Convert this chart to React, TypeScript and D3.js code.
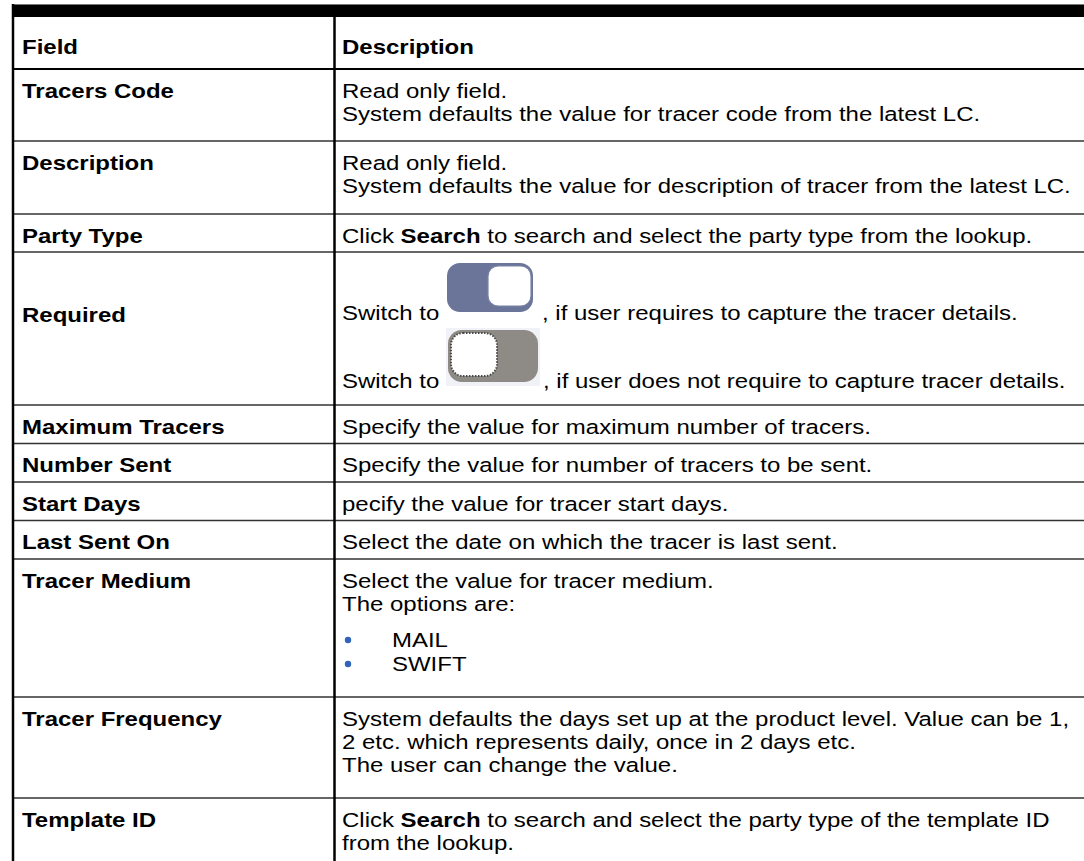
import React, { useEffect, useRef } from "react";
import * as d3 from "d3";

// ---- table content ----
const headers = ["Field", "Description"];
const fields = [
  "Tracers Code",
  "Description",
  "Party Type",
  "Required",
  "Maximum Tracers",
  "Number Sent",
  "Start Days",
  "Last Sent On",
  "Tracer Medium",
  "Tracer Frequency",
  "Template ID",
];
// **word** marks bold text
const descriptions: string[][] = [
  ["Read only field.", "System defaults the value for tracer code from the latest LC."],
  ["Read only field.", "System defaults the value for description of tracer from the latest LC."],
  ["Click **Search** to search and select the party type from the lookup."],
  [],
  ["Specify the value for maximum number of tracers."],
  ["Specify the value for number of tracers to be sent."],
  ["pecify the value for tracer start days."],
  ["Select the date on which the tracer is last sent."],
  ["Select the value for tracer medium.", "The options are:"],
  [
    "System defaults the days set up at the product level. Value can be 1,",
    "2 etc. which represents daily, once in 2 days etc.",
    "The user can change the value.",
  ],
  ["Click **Search** to search and select the party type of the template ID", "from the lookup."],
];
const mediumOptions = ["MAIL", "SWIFT"];
const switchLead = "Switch to";
const switchTexts = [
  ", if user requires to capture the tracer details.",
  ", if user does not require to capture tracer details.",
];

// ---- layout ----
const W = 1084;
const H = 861;
const rowHeights = [52, 72, 73, 38, 153, 38.5, 38.5, 38.5, 38.5, 138, 101, 72];
const TOP = 17;
const LEFT = 13;
const COL = 334.5;
const FX = 22;
const DX = 342;
const FS = 20.5;
const SX = 1.17;
const PITCH = 23;
const BASE = 28.5;
const FONT = "'Liberation Sans', Arial, Helvetica, sans-serif";

export default function App() {
  const ref = useRef<SVGSVGElement>(null);

  useEffect(() => {
    if (!ref.current) return;
    const svg = d3.select(ref.current);
    svg.selectAll("*").remove();

    const tops = [TOP, ...Array.from(d3.cumsum(rowHeights)).map((d) => TOP + d)];

    svg.append("rect").attr("width", W).attr("height", H).attr("fill", "#fff");

    // rich text writer: splits on ** for bold runs, stretched horizontally
    const write = (x: number, y: number, str: string, bold = false) => {
      const t = svg
        .append("text")
        .attr("transform", `translate(${x},${y}) scale(${SX},1)`)
        .attr("font-family", FONT)
        .attr("font-size", FS)
        .attr("fill", "#000");
      str.split("**").forEach((part, i) => {
        t.append("tspan")
          .attr("font-weight", bold || i % 2 === 1 ? "bold" : "normal")
          .text(part);
      });
      return t;
    };

    // row separators
    const lines = svg.append("g");
    tops.slice(1).forEach((y, i) => {
      lines
        .append("line")
        .attr("x1", LEFT)
        .attr("x2", W)
        .attr("y1", y)
        .attr("y2", y)
        .attr("stroke", i === 0 ? "#000" : "#333")
        .attr("stroke-width", i === 0 ? 2 : 1.6);
    });

    // top black bar
    svg.append("rect").attr("x", 12).attr("y", 4).attr("width", W - 12).attr("height", 13).attr("fill", "#000");
    svg.append("line").attr("x1", 12).attr("x2", W).attr("y1", 4.5).attr("y2", 4.5).attr("stroke", "#777").attr("stroke-width", 1);

    // verticals
    svg.append("line").attr("x1", LEFT).attr("x2", LEFT).attr("y1", 4).attr("y2", H).attr("stroke", "#000").attr("stroke-width", 2.5);
    svg.append("line").attr("x1", COL).attr("x2", COL).attr("y1", 17).attr("y2", H).attr("stroke", "#000").attr("stroke-width", 2.5);

    // header
    write(FX, TOP + 37, headers[0], true);
    write(DX, TOP + 37, headers[1], true);

    fields.forEach((f, i) => {
      const top = tops[i + 1];
      write(FX, f === "Required" ? top + 70 : top + BASE, f, true);
      descriptions[i].forEach((ln, j) => write(DX, top + BASE + j * PITCH, ln));

      if (f === "Tracer Medium") {
        mediumOptions.forEach((opt, j) => {
          const by = top + 88 + j * 24;
          svg.append("circle").attr("cx", 348).attr("cy", by - 7).attr("r", 3.2).attr("fill", "#2f63b8");
          write(392, by, opt);
        });
      }

      if (f === "Required") {
        // switch on
        const y1 = top + 68;
        write(DX, y1, switchLead);
        const on = svg.append("g").attr("transform", `translate(447,${top + 11})`);
        on.append("rect").attr("width", 86).attr("height", 49).attr("rx", 13).attr("fill", "#6b7499");
        on.append("rect").attr("x", 41).attr("y", 3).attr("width", 43).attr("height", 40).attr("rx", 10)
          .attr("fill", "#fff").attr("stroke", "#7a83a6").attr("stroke-width", 1.2);
        write(542, y1, switchTexts[0]);

        // switch off
        const y2 = top + 136;
        write(DX, y2, switchLead);
        const off = svg.append("g").attr("transform", `translate(448,${top + 78})`);
        off.append("rect").attr("x", -2).attr("y", -2).attr("width", 94).attr("height", 58).attr("fill", "#f1f2f8");
        off.append("rect").attr("width", 90).attr("height", 52).attr("rx", 14).attr("fill", "#8e8a85");
        off.append("rect").attr("x", 3).attr("y", 3).attr("width", 46).attr("height", 43).attr("rx", 12)
          .attr("fill", "#fff").attr("stroke", "#4a4a4a").attr("stroke-width", 2).attr("stroke-dasharray", "1.5 1.5");
        write(543, y2, switchTexts[1]);
      }
    });
  }, []);

  return (
    <svg
      ref={ref}
      width={W}
      height={H}
      style={{ position: "absolute", left: 0, top: 0, display: "block" }}
    />
  );
}
